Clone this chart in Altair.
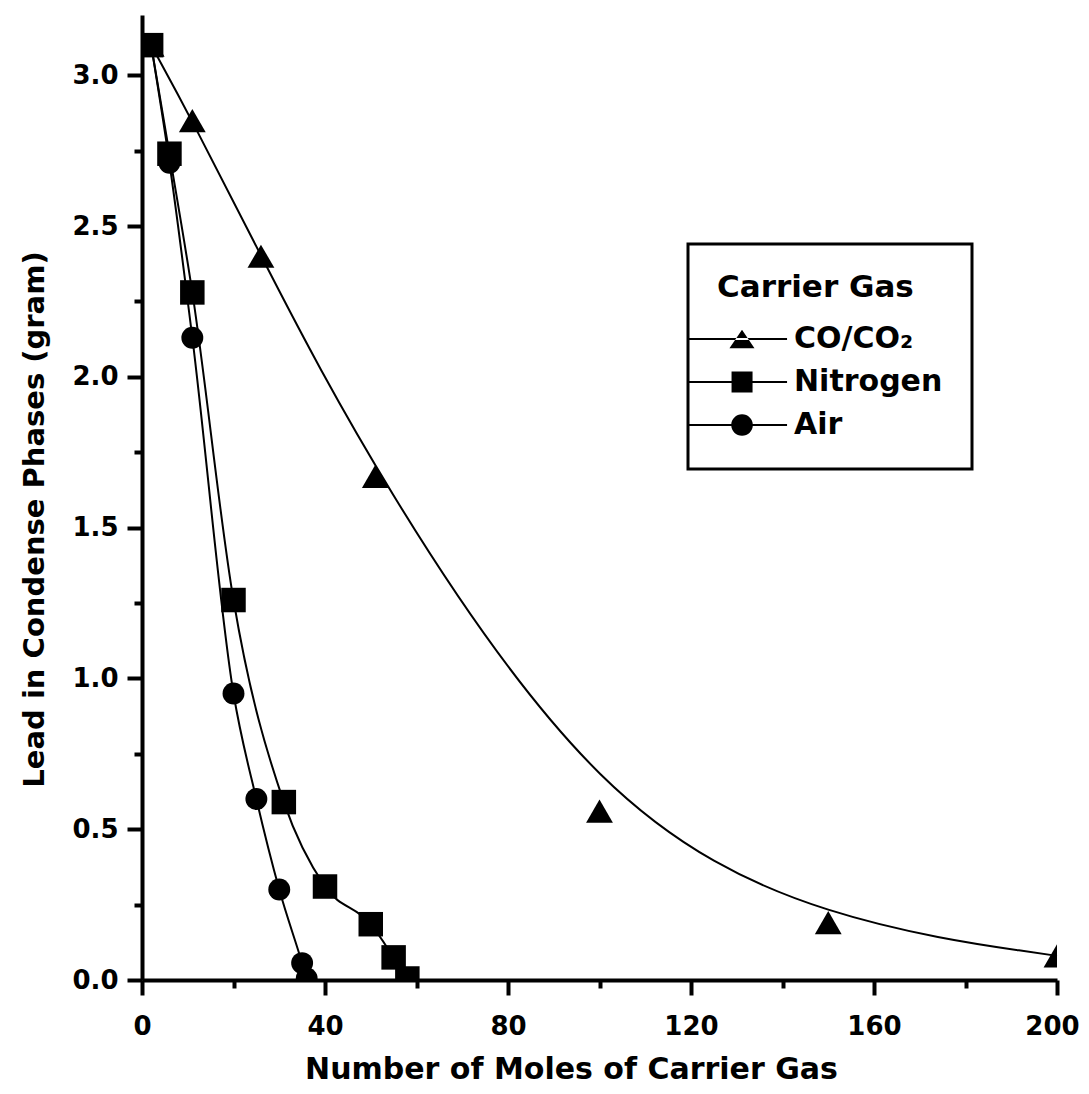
import altair as alt
import pandas as pd

# ---- data ----
series_names = ["CO/CO₂", "Nitrogen", "Air"]

co_x = [2, 11, 26, 51, 100, 150, 200]
co_y = [3.10, 2.85, 2.40, 1.67, 0.56, 0.19, 0.08]

n2_x = [2, 6, 11, 20, 31, 40, 50, 55, 58]
n2_y = [3.10, 2.74, 2.28, 1.26, 0.59, 0.31, 0.185, 0.075, 0.005]

air_x = [2, 6, 11, 20, 25, 30, 35, 36]
air_y = [3.10, 2.71, 2.13, 0.95, 0.60, 0.30, 0.056, 0.005]

x_tick_values = list(range(0, 201, 20))
y_tick_values = [i * 0.25 for i in range(0, 13)]

rows = []
for name, xs, ys in zip(series_names, [co_x, n2_x, air_x], [co_y, n2_y, air_y]):
    for i, (xv, yv) in enumerate(zip(xs, ys)):
        rows.append({"gas": name, "moles": xv, "lead": yv, "order": i})
df = pd.DataFrame(rows)

FONT = "DejaVu Sans"

# legend symbols: line through a marker (custom paths, unit = sqrt(symbolSize)/2)
leg_line = "M-2.93,-0.07H3.67V0.07H-2.93Z"
leg_paths = [
    leg_line + "M-0.17,0.62L1.5,0.62L0.667,-0.62Z",
    leg_line + "M-0.03,-0.7H1.37V0.7H-0.03Z",
    leg_line + "M-0.05,0A0.72,0.72 0 1,1 1.39,0A0.72,0.72 0 1,1 -0.05,0Z",
]


def build(conditional_ticks=True):
    if conditional_ticks:
        x_tick_size = {"condition": {"test": "datum.value % 40 === 0", "value": 15}, "value": 8}
        y_tick_size = {"condition": {"test": "datum.value % 0.5 === 0", "value": 15}, "value": 8}
        x_label_offset = {"condition": {"test": "datum.value === 200", "value": -5}, "value": 0}
    else:
        x_tick_size = 12
        y_tick_size = 12
        x_label_offset = 0

    x_enc = alt.X(
        "moles:Q",
        scale=alt.Scale(domain=[0, 200], nice=False),
        axis=alt.Axis(
            title="Number of Moles of Carrier Gas",
            values=x_tick_values,
            labelExpr="datum.value % 40 === 0 ? format(datum.value, 'd') : ''",
            tickSize=x_tick_size,
            labelOffset=x_label_offset,
            labelPadding=18,
            titleX=429,
            titleY=98,
            titleBaseline="alphabetic",
            titleAlign="center",
            labelFlush=False,
            labelOverlap=False,
        ),
    )
    y_enc = alt.Y(
        "lead:Q",
        scale=alt.Scale(domain=[0, 3.2], nice=False),
        axis=alt.Axis(
            title="Lead in Condense Phases (gram)",
            values=y_tick_values,
            labelExpr="datum.value % 0.5 === 0 ? format(datum.value, '.1f') : ''",
            tickSize=y_tick_size,
            labelPadding=9,
            titleX=-99,
            titleY=504,
            titleAngle=-90,
            titleFontSize=29,
            titleBaseline="alphabetic",
            titleAlign="center",
            labelFlush=False,
            labelOverlap=False,
        ),
    )

    base = alt.Chart(df)

    co_line = base.transform_filter(alt.datum.gas == series_names[0]).mark_line(
        color="black", strokeWidth=2, interpolate="basis"
    ).encode(x=x_enc, y=y_enc, order="order:Q")

    other_lines = base.transform_filter(alt.datum.gas != series_names[0]).mark_line(
        color="black", strokeWidth=2, interpolate="monotone"
    ).encode(x=x_enc, y=y_enc, detail="gas:N", order="order:Q")

    points = base.mark_point(filled=True, color="black", opacity=1, strokeWidth=0, clip=True).encode(
        x=x_enc,
        y=y_enc,
        shape=alt.Shape(
            "gas:N",
            scale=alt.Scale(domain=series_names, range=["triangle-up", "square", "circle"]),
            legend=None,
        ),
        size=alt.Size(
            "gas:N",
            scale=alt.Scale(domain=series_names, range=[720, 480, 470]),
            legend=None,
        ),
    )

    legend_layer = base.mark_point(filled=True, color="black", opacity=0).encode(
        x=x_enc,
        y=y_enc,
        shape=alt.Shape(
            "gas:N",
            scale=alt.Scale(domain=series_names, range=leg_paths),
            legend=alt.Legend(
                title="Carrier Gas",
                orient="none",
                legendX=546,
                legendY=229,
            ),
        ),
    )

    chart = (
        alt.layer(co_line, other_lines, points, legend_layer)
        .resolve_scale(shape="independent", size="independent")
        .properties(
            width=915,
            height=965,
            autosize=alt.AutoSizeParams(type="none"),
            padding={"left": 134, "top": 7, "right": 24, "bottom": 106},
            background="white",
        )
        .configure_view(stroke=None)
        .configure_axis(
            domainColor="black",
            domainWidth=4,
            tickColor="black",
            tickWidth=4,
            grid=False,
            labelFont=FONT,
            labelFontSize=26,
            labelFontWeight="bold",
            labelColor="black",
            titleFont=FONT,
            titleFontSize=30,
            titleFontWeight="bold",
            titleColor="black",
        )
        .configure_legend(
            padding=29,
            strokeColor="black",
            strokeWidth=3,
            fillColor="white",
            symbolSize=900,
            symbolStrokeWidth=0,
            symbolFillColor="black",
            symbolOpacity=1,
            labelOffset=47,
            labelFont=FONT,
            labelFontSize=30,
            labelFontWeight="bold",
            labelColor="black",
            labelLimit=400,
            titleFont=FONT,
            titleFontSize=31,
            titleFontWeight="bold",
            titleColor="black",
            titlePadding=20,
            rowPadding=13,
            titleLimit=400,
        )
    )
    return chart


try:
    chart = build(True)
    chart.to_dict()
except Exception:
    chart = build(False)

chart.save("out.html", embed_options={"renderer": "svg", "actions": False})
